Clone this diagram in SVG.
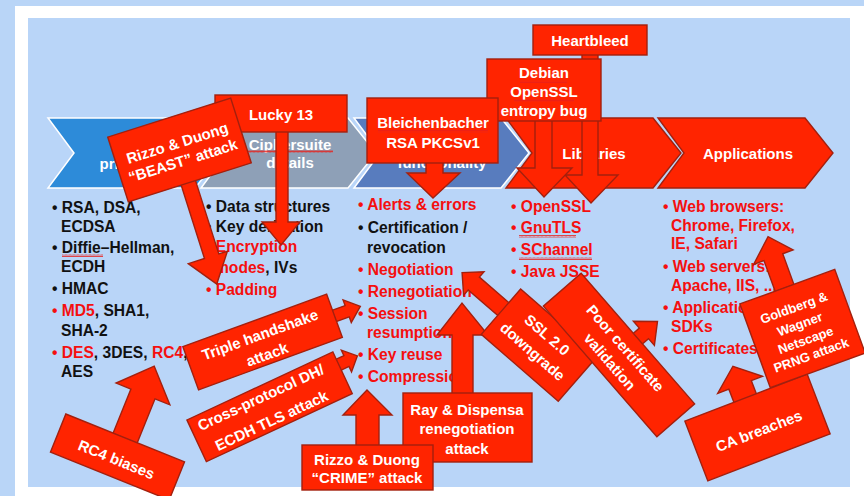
<svg xmlns="http://www.w3.org/2000/svg" width="864" height="496" viewBox="0 0 864 496">
<defs>
<pattern id="sq" width="4" height="3" patternUnits="userSpaceOnUse"><path d="M0 2.5 L1 0.5 L2 2.5 L3 0.5 L4 2.5" fill="none" stroke="#e8201a" stroke-width="0.8"/></pattern>
</defs>
<style>
.bx{fill:#ff2400;stroke:#a3200e;stroke-width:1.4;stroke-linejoin:miter}
.wt{fill:#fff;font-family:"Liberation Sans",Arial,sans-serif;font-weight:bold;font-size:15px;text-anchor:middle}
.lt{font-family:"Liberation Sans",Arial,sans-serif;font-weight:bold;font-size:15.6px}
.r{fill:#f50f0f}
.k{fill:#111}
.sq{fill:url(#sq)}
</style>
<rect x="0" y="0" width="864" height="496" fill="#b9d5f7"/>
<rect x="15" y="6" width="849" height="490" fill="#fff"/>
<rect x="28" y="18" width="822" height="469" fill="#b9d5f8"/>

<g id="chevrons">
<g id="chev-primitives"><polygon points="48,118 195,118 223,153 195,188 48,188 74,153" fill="#2d8bd9" stroke="#fff" stroke-width="1.5"/>
<text class="wt" x="135" y="169">primitives</text></g>
<g id="chev-ciphersuite"><polygon points="201,118 348,118 376,153 348,188 201,188 227,153" fill="#8ea0b7" stroke="#fff" stroke-width="1.5"/>
<text class="wt" x="290" y="150">Ciphersuite</text><text class="wt" x="290" y="168">details</text>
<rect class="sq" x="248" y="150" width="85" height="3"/></g>
<g id="chev-functionality"><polygon points="354,118 501,118 529,153 501,188 354,188 380,153" fill="#587cbe" stroke="#fff" stroke-width="1.5"/>
<text class="wt" x="442" y="168">functionality</text></g>
<g id="chev-libraries"><polygon points="506,118 653,118 681,153 653,188 506,188 532,153" class="bx"/>
<text class="wt" x="594" y="159">Libraries</text></g>
<g id="chev-applications"><polygon points="658,118 805,118 833,153 805,188 658,188 684,153" class="bx"/>
<text class="wt" x="748" y="159">Applications</text></g>
</g>

<g id="lists" class="lt">
<text x="52" y="213" class="k">• RSA, DSA,</text>
<text x="61" y="232" class="k">ECDSA</text>
<text x="52" y="253" class="k">• Diffie–Hellman,</text>
<rect class="sq" x="62" y="254" width="41" height="3"/>
<text x="61" y="272" class="k">ECDH</text>
<text x="52" y="294" class="k">• HMAC</text>
<text x="52" y="316" class="k"><tspan class="r">• MD5</tspan>, SHA1,</text>
<text x="61" y="336" class="k">SHA-2</text>
<text x="52" y="358" class="k"><tspan class="r">• DES</tspan>, 3DES, <tspan class="r">RC4</tspan>,</text>
<text x="61" y="377" class="k">AES</text>

<text x="206" y="212" class="k">• Data structures</text>
<text x="206" y="232" class="k">• Key derivation</text>
<text x="206" y="252" class="r">• Encryption</text>
<text x="215" y="273" class="r">modes<tspan class="k">, IVs</tspan></text>
<text x="206" y="295" class="r">• Padding</text>

<text x="358" y="210" class="r">• Alerts &amp; errors</text>
<text x="358" y="233" class="k">• Certification /</text>
<text x="367" y="253" class="k">revocation</text>
<text x="358" y="275" class="r">• Negotiation</text>
<text x="358" y="297" class="r">• Renegotiation</text>
<text x="358" y="319" class="r">• Session</text>
<text x="367" y="338" class="r">resumption</text>
<text x="358" y="360" class="r">• Key reuse</text>
<text x="358" y="382" class="r">• Compression</text>

<text x="511" y="212" class="r">• OpenSSL</text>
<text x="511" y="233" class="r">• GnuTLS</text>
<rect class="sq" x="519" y="235" width="57" height="3"/>
<text x="511" y="255" class="r">• SChannel</text>
<rect class="sq" x="519" y="257" width="73" height="3"/>
<text x="511" y="277" class="r">• Java JSSE</text>

<text x="663" y="212" class="r">• Web browsers:</text>
<text x="671" y="231" class="r">Chrome, Firefox,</text>
<text x="671" y="249" class="r">IE, Safari</text>
<text x="663" y="272" class="r">• Web servers:</text>
<text x="671" y="291" class="r">Apache, IIS, ...</text>
<text x="663" y="313" class="r">• Application</text>
<text x="671" y="332" class="r">SDKs</text>
<text x="663" y="354" class="r">• Certificates</text>
</g>

<g id="connectors">
<polygon id="arr-heartbleed" class="bx" points="582,54 598,54 598,175 618,175 591,203 565,175 582,175"/>
<polygon id="arr-debian" class="bx" points="535,120 552,120 552,168 572,168 544,197 517,168 535,168"/>
<polygon id="arr-bleich" class="bx" points="426,162 443,162 443,173 460,173 433,198 407,173 426,173"/>
<polygon id="arr-lucky" class="bx" points="276,131 288,131 288,222 300,222 281,245 262,222 276,222"/>
<polygon id="arr-beast" class="bx" transform="translate(179.5,150) rotate(-17.6)" points="-9,33 6,33 6,111 15,111 -5,139 -26,111 -9,111"/>
<polygon id="arr-rc4" class="bx" transform="translate(117.5,457) rotate(22)" points="-13,-20 13,-20 13,-68 29,-68 0,-98 -29,-68 -13,-68"/>
<polygon id="arr-triple" class="bx" transform="translate(262.6,342) rotate(-20)" points="76,-6 90,-6 90,-12 104,0 90,12 90,6 76,6"/>
<polygon id="arr-cross" class="bx" transform="translate(269.6,406.8) rotate(-25)" points="80,-15 89,-15 89,-21 101,-9 89,3 89,-3 80,-3"/>
<polygon id="arr-ray" class="bx" points="452,394 473,394 473,335 488,335 462,303 437,335 452,335"/>
<polygon id="arr-crime" class="bx" points="356,446 379,446 379,415 392,415 367,390 343,415 356,415"/>
<polygon id="arr-ssl" class="bx" transform="translate(540,343) rotate(41)" points="-49,-10 -89,-10 -89,-17 -105,-2 -89,14 -89,7 -49,7"/>
<polygon id="arr-poor" class="bx" transform="translate(619,355) rotate(49)" points="-7,-24 -7,-33 -16,-33 0,-51 16,-33 7,-33 7,-24"/>
<polygon id="arr-ca" class="bx" transform="translate(757.5,427.5) rotate(-21)" points="-13,-31 -13,-46 -25,-46 -1,-66 23,-46 11,-46 11,-31"/>
<polygon id="arr-goldberg" class="bx" transform="translate(802.5,328.5) rotate(-20)" points="-13,-44 -13,-77 -24,-77 -1,-98 18,-77 7,-77 7,-44"/>
</g>

<g id="heartbleed"><rect class="bx" x="533" y="25" width="114" height="30"/>
<text class="wt" x="590" y="46">Heartbleed</text><rect class="sq" x="552" y="48" width="76" height="3"/></g>

<g id="debian"><rect class="bx" x="487" y="59" width="114" height="62"/>
<text class="wt" x="544" y="78">Debian</text><text class="wt" x="544" y="97">OpenSSL</text><text class="wt" x="544" y="116">entropy bug</text>
<rect class="sq" x="520" y="80" width="47" height="3"/><rect class="sq" x="514" y="99" width="60" height="3"/></g>

<g id="bleichenbacher"><rect class="bx" x="367" y="98" width="131" height="65"/>
<text class="wt" x="433" y="128">Bleichenbacher</text><text class="wt" x="433" y="148">RSA PKCSv1</text>
<rect class="sq" x="378" y="130" width="110" height="3"/></g>

<g id="lucky13"><rect class="bx" x="215" y="95" width="132" height="37"/>
<text class="wt" x="281" y="120">Lucky 13</text></g>

<g id="beast" transform="translate(179.5,150) rotate(-17.6)"><rect class="bx" x="-64.5" y="-34" width="129" height="68"/>
<text class="wt" x="0" y="-2">Rizzo &amp; Duong</text><text class="wt" x="0" y="16.5">“BEAST” attack</text></g>

<g id="rc4" transform="translate(117.5,457) rotate(22)"><rect class="bx" x="-64" y="-20.5" width="128" height="41"/>
<text class="wt" x="0" y="8">RC4 biases</text></g>

<g id="triple" transform="translate(262.6,342) rotate(-20)"><rect class="bx" x="-76.5" y="-23" width="153" height="46"/>
<text class="wt" x="0" y="-2.5">Triple handshake</text><text class="wt" x="0" y="18.5">attack</text></g>

<g id="cross" transform="translate(269.6,406.8) rotate(-25)"><rect class="bx" x="-80.5" y="-23" width="161" height="46"/>
<text class="wt" x="-4" y="-7">Cross-protocol DH/</text><text class="wt" x="-4" y="18.5">ECDH TLS attack</text></g>

<g id="ray"><rect class="bx" x="403" y="393" width="129" height="69"/>
<text class="wt" x="467" y="415">Ray &amp; Dispensa</text><text class="wt" x="467" y="434">renegotiation</text><text class="wt" x="467" y="454">attack</text>
<rect class="sq" x="458" y="417" width="65" height="3"/></g>

<g id="crime"><rect class="bx" x="302" y="445" width="131" height="45"/>
<text class="wt" x="367" y="465">Rizzo &amp; Duong</text><text class="wt" x="367" y="483">“CRIME” attack</text></g>

<g id="ssl" transform="translate(540,343) rotate(41)"><rect class="bx" x="-50" y="-28" width="102" height="60"/>
<text class="wt" x="0" y="-5.5">SSL 2.0</text><text class="wt" x="0" y="16.5">downgrade</text></g>

<g id="poor" transform="translate(619,355) rotate(49)"><rect class="bx" x="-86.5" y="-25" width="173" height="50"/>
<text class="wt" x="-1" y="-4">Poor certificate</text><text class="wt" x="-1" y="16.5">validation</text></g>

<g id="ca" transform="translate(757.5,427.5) rotate(-21)"><rect class="bx" x="-65.5" y="-32" width="131" height="64"/>
<text class="wt" x="0" y="9">CA breaches</text></g>

<g id="goldberg" transform="translate(802.5,328.5) rotate(-20)"><rect class="bx" x="-50.5" y="-44.5" width="101" height="89"/>
<g class="wt" style="font-size:13px"><text x="-1" y="-18">Goldberg &amp;</text><text x="-1" y="-0.5">Wagner</text><text x="-1" y="16.5">Netscape</text><text x="-1" y="32.5">PRNG attack</text></g></g>
</svg>
